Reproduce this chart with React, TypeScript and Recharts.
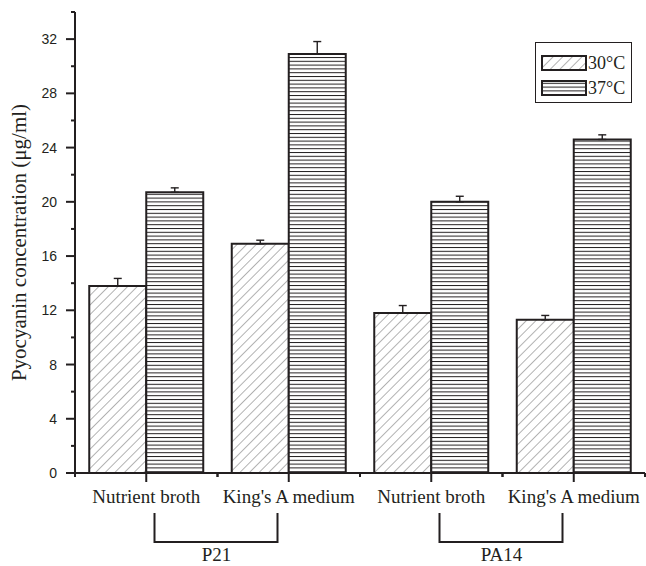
import React from 'react';
import { BarChart, Bar, XAxis, YAxis, Legend, ErrorBar } from 'recharts';

// media on the x axis, two strains (P21, PA14)
const categories = ['Nutrient broth', "King's A medium", 'Nutrient broth', "King's A medium"];
const strains = ['P21', 'PA14'];

// pyocyanin (µg/ml)
const values30 = [13.8, 16.9, 11.8, 11.3];
const values37 = [20.7, 30.9, 20.0, 24.6];
// upper error only
const err30 = [0.55, 0.27, 0.55, 0.32];
const err37 = [0.33, 0.92, 0.41, 0.34];

const yTicks = [0, 2, 4, 6, 8, 10, 12, 14, 16, 18, 20, 22, 24, 26, 28, 30, 32, 34];

const INK = '#231f20';
const SERIF = '"Liberation Serif", "Times New Roman", serif';
const SANS = '"Liberation Sans", Arial, sans-serif';

const data = categories.map((c, i) => ({
  name: c,
  t30: values30[i],
  t37: values37[i],
  e30: [0, err30[i]],
  e37: [0, err37[i]],
}));

function Patterns({ prefix }: { prefix: string }) {
  return (
    <defs>
      <pattern
        id={`${prefix}-diag`}
        patternUnits="userSpaceOnUse"
        width={6.8}
        height={6.8}
        patternTransform="rotate(45)"
      >
        <rect width={6.8} height={6.8} fill="#fff" />
        <line x1={0} y1={0} x2={0} y2={6.8} stroke="#808080" strokeWidth={1.2} />
      </pattern>
      <pattern id={`${prefix}-horiz`} patternUnits="userSpaceOnUse" width={10} height={3.8}>
        <rect width={10} height={3.8} fill="#fff" />
        <line x1={0} y1={0.5} x2={10} y2={0.5} stroke={INK} strokeWidth={1} />
      </pattern>
    </defs>
  );
}

const XTick = (props: any) => {
  const { x, y, payload, index } = props;
  const half = payload.offset ?? 71;
  return (
    <g>
      <line x1={x} y1={y} x2={x} y2={y + 9} stroke={INK} strokeWidth={2} />
      <line x1={x - half} y1={y} x2={x - half} y2={y + 4} stroke={INK} strokeWidth={2} />
      <line x1={x + half} y1={y} x2={x + half} y2={y + 4} stroke={INK} strokeWidth={2} />
      <text x={x} y={y + 30} textAnchor="middle" fontFamily={SERIF} fontSize={19} fill={INK}>
        {payload.value}
      </text>
      {index % 2 === 0 && (
        <g>
          <path
            d={`M${x + half - 63},${y + 40} V${y + 69} H${x + half + 60} V${y + 40}`}
            fill="none"
            stroke={INK}
            strokeWidth={2}
          />
          <text x={x + half - 1} y={y + 88} textAnchor="middle" fontFamily={SERIF} fontSize={19} fill={INK}>
            {strains[index / 2]}
          </text>
        </g>
      )}
    </g>
  );
};

const YTick = (props: any) => {
  const { x, y, payload } = props;
  const major = payload.value % 4 === 0;
  if (!major) {
    return <line x1={x - 4} y1={y} x2={x} y2={y} stroke={INK} strokeWidth={2} />;
  }
  return (
    <g>
      <line x1={x - 9} y1={y} x2={x} y2={y} stroke={INK} strokeWidth={2} />
      <text x={x - 18} y={y} dy={5} textAnchor="end" fontFamily={SANS} fontSize={14} fill={INK}>
        {payload.value}
      </text>
    </g>
  );
};

const LegendBox = (props: any) => {
  const items = props.payload || [];
  return (
    <div
      style={{
        border: `1px solid ${INK}`,
        width: 95,
        height: 59,
        boxSizing: 'content-box',
        background: '#fff',
      }}
    >
      {items.map((it: any, i: number) => (
        <div
          key={it.value}
          style={{ display: 'flex', alignItems: 'center', height: 25, marginTop: i === 0 ? 7 : 0 }}
        >
          <svg width={52} height={18} style={{ display: 'block' }}>
            <Patterns prefix={`lg${i}`} />
            <rect
              x={6}
              y={2}
              width={44}
              height={14}
              fill={`url(#lg${i}-${it.dataKey === 't30' ? 'diag' : 'horiz'})`}
              stroke={INK}
              strokeWidth={2}
            />
          </svg>
          <span style={{ fontFamily: SERIF, fontSize: 18, color: INK, lineHeight: '18px' }}>{it.value}</span>
        </div>
      ))}
    </div>
  );
};

export default function App() {
  return (
    <div style={{ position: 'absolute', left: 0, top: 0, background: '#fff' }}>
      <BarChart
        width={646}
        height={566}
        data={data}
        margin={{ top: 12, right: 1, left: 0, bottom: 0 }}
        barCategoryGap="10%"
        barGap={0}
      >
        <Patterns prefix="ch" />
        <XAxis
          dataKey="name"
          height={93}
          axisLine={{ stroke: INK, strokeWidth: 2 }}
          tickLine={false}
          tickSize={0}
          tickMargin={0}
          interval={0}
          tick={<XTick />}
        />
        <YAxis
          width={75}
          domain={[0, 34]}
          ticks={yTicks}
          interval={0}
          axisLine={{ stroke: INK, strokeWidth: 2 }}
          tickLine={false}
          tickSize={0}
          tickMargin={0}
          tick={<YTick />}
          label={{
            value: 'Pyocyanin concentration (μg/ml)',
            angle: -90,
            position: 'center',
            dx: -19,
            style: { fontFamily: SERIF, fontSize: 21, fill: INK },
          }}
        />
        <Legend
          layout="horizontal"
          align="center"
          verticalAlign="middle"
          content={<LegendBox />}
          wrapperStyle={{ position: 'absolute', left: 535, top: 42, width: 'auto', height: 'auto' }}
        />
        <Bar dataKey="t30" name="30°C" fill="url(#ch-diag)" stroke={INK} strokeWidth={2} isAnimationActive={false}>
          <ErrorBar dataKey="e30" direction="y" width={4} stroke={INK} strokeWidth={1.4} />
        </Bar>
        <Bar dataKey="t37" name="37°C" fill="url(#ch-horiz)" stroke={INK} strokeWidth={2} isAnimationActive={false}>
          <ErrorBar dataKey="e37" direction="y" width={4} stroke={INK} strokeWidth={1.4} />
        </Bar>
      </BarChart>
    </div>
  );
}
